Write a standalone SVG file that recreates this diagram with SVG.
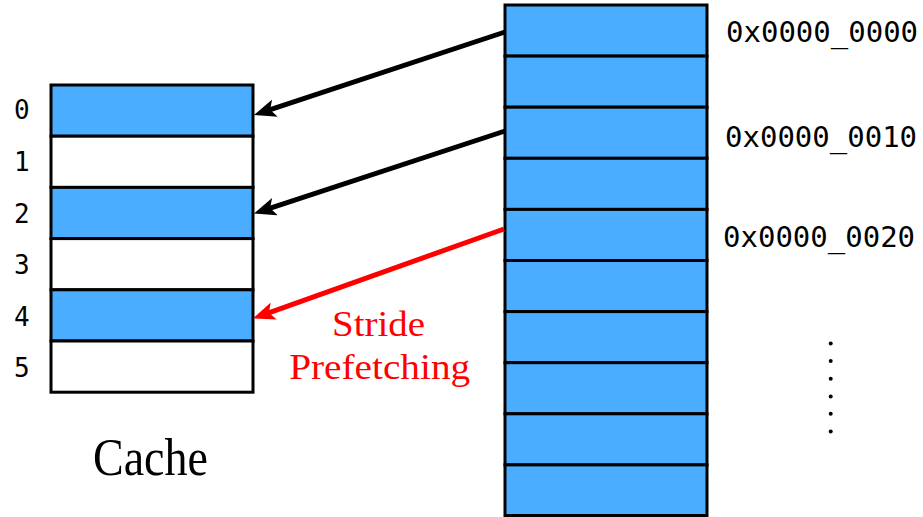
<svg xmlns="http://www.w3.org/2000/svg" width="923" height="517" viewBox="0 0 923 517">
  <style>
    .cell { stroke: #000; stroke-width: 3; }
    .full { fill: #4AADFF; }
    .empty { fill: #FFFFFF; }
    .idx { font-family: "DejaVu Sans Mono", "Liberation Mono", monospace; font-size: 26px; fill: #000; }
    .addr { font-family: "DejaVu Sans Mono", "Liberation Mono", monospace; font-size: 29px; fill: #000; }
    .title { font-family: "Liberation Serif", serif; font-size: 52px; fill: #000; }
    .note { font-family: "Liberation Serif", serif; font-size: 35px; fill: #FF0000; text-anchor: middle; }
    .link { fill: none; stroke-width: 5; }
  </style>
  <defs>
    <marker id="head-black" viewBox="0 0 22 18" refX="12" refY="9" markerWidth="22" markerHeight="18" markerUnits="userSpaceOnUse" orient="auto">
      <path d="M0,0 L22,9 L0,18 L5,9 z" fill="#000"/>
    </marker>
    <marker id="head-red" viewBox="0 0 22 18" refX="12" refY="9" markerWidth="22" markerHeight="18" markerUnits="userSpaceOnUse" orient="auto">
      <path d="M0,0 L22,9 L0,18 L5,9 z" fill="#FF0000"/>
    </marker>
  </defs>

  <rect width="923" height="517" fill="#FFFFFF"/>

  <!-- cache lines -->
  <g id="cache">
    <g id="cache-line-0"><rect class="cell full" x="51" y="85" width="202" height="51.2"/><text class="idx" x="14" y="119">0</text></g>
    <g id="cache-line-1"><rect class="cell empty" x="51" y="136.2" width="202" height="51.2"/><text class="idx" x="14" y="171">1</text></g>
    <g id="cache-line-2"><rect class="cell full" x="51" y="187.4" width="202" height="51.2"/><text class="idx" x="14" y="222.5">2</text></g>
    <g id="cache-line-3"><rect class="cell empty" x="51" y="238.6" width="202" height="51.2"/><text class="idx" x="14" y="274">3</text></g>
    <g id="cache-line-4"><rect class="cell full" x="51" y="289.8" width="202" height="51.2"/><text class="idx" x="14" y="325.5">4</text></g>
    <g id="cache-line-5"><rect class="cell empty" x="51" y="341" width="202" height="51.2"/><text class="idx" x="14" y="376.5">5</text></g>
    <text id="cache-title" class="title" x="93" y="475" textLength="115" lengthAdjust="spacingAndGlyphs">Cache</text>
  </g>

  <!-- main memory blocks -->
  <g id="memory">
    <rect class="cell full" x="505" y="5" width="202" height="51.1"/>
    <rect class="cell full" x="505" y="56.1" width="202" height="51.1"/>
    <rect class="cell full" x="505" y="107.2" width="202" height="51.1"/>
    <rect class="cell full" x="505" y="158.3" width="202" height="51.1"/>
    <rect class="cell full" x="505" y="209.4" width="202" height="51.1"/>
    <rect class="cell full" x="505" y="260.5" width="202" height="51.1"/>
    <rect class="cell full" x="505" y="311.6" width="202" height="51.1"/>
    <rect class="cell full" x="505" y="362.7" width="202" height="51.1"/>
    <rect class="cell full" x="505" y="413.8" width="202" height="51.1"/>
    <rect class="cell full" x="505" y="464.9" width="202" height="50.6"/>
  </g>

  <!-- addresses -->
  <g id="addresses">
    <text class="addr" x="726" y="42">0x0000_0000</text>
    <text class="addr" x="725" y="146.5">0x0000_0010</text>
    <text class="addr" x="723" y="246.5">0x0000_0020</text>
  </g>

  <!-- continuation dots -->
  <g id="ellipsis" fill="#000">
    <circle cx="830.7" cy="343.5" r="2"/>
    <circle cx="830.7" cy="361" r="2"/>
    <circle cx="830.7" cy="378.7" r="2"/>
    <circle cx="830.7" cy="396.5" r="2"/>
    <circle cx="830.7" cy="413.7" r="2"/>
    <circle cx="830.7" cy="431.5" r="2"/>
  </g>

  <!-- fetch connectors -->
  <g id="connectors">
    <line class="link" stroke="#000" x1="505" y1="32" x2="263.5" y2="111.9" marker-end="url(#head-black)"/>
    <line class="link" stroke="#000" x1="505" y1="131" x2="263.5" y2="210.4" marker-end="url(#head-black)"/>
    <line class="link" stroke="#FF0000" x1="504" y1="229" x2="262.4" y2="315.1" marker-end="url(#head-red)"/>
  </g>

  <g id="stride-label">
    <text class="note" x="378.5" y="336" textLength="93" lengthAdjust="spacingAndGlyphs">Stride</text>
    <text class="note" x="379.7" y="379.3" textLength="181" lengthAdjust="spacingAndGlyphs">Prefetching</text>
  </g>
</svg>
